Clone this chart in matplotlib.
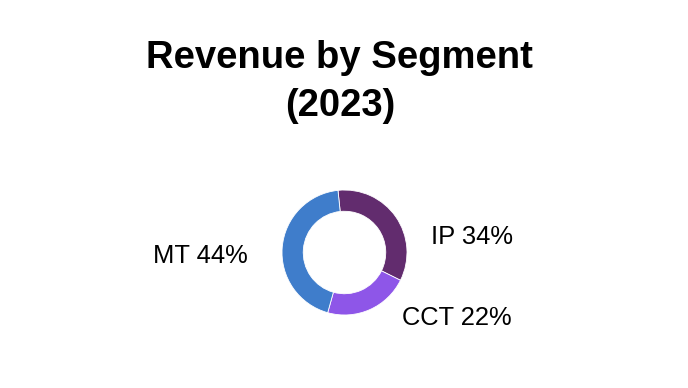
import matplotlib.pyplot as plt

# data
segments = ['IP', 'CCT', 'MT']
shares = [34, 22, 44]
colors = ['#622c6e', '#8e56e8', '#3f7dcb']

# label spots, in pie radius units
label_xy = [(2.035, 0.253), (1.795, -1.053), (-2.30, -0.056)]

plt.rcParams['font.family'] = ['Liberation Sans', 'DejaVu Sans']

W, H = 688, 388
cx, cy, r = 344.5, 252.5, 62.5

fig = plt.figure(figsize=(W / 100, H / 100), dpi=100)
ax = fig.add_axes([0, 0, 1, 1])

ax.pie(shares, colors=colors, startangle=96, counterclock=False,
       radius=1.0, wedgeprops=dict(width=0.34, edgecolor='white', linewidth=0.6))

for name, val, (x, y) in zip(segments, shares, label_xy):
    ax.text(x, y, f'{name} {val}%', ha='center', va='center', fontsize=18.4)

ax.set_xlim(-cx / r, (W - cx) / r)
ax.set_ylim(-(H - cy) / r, cy / r)
ax.set_aspect('auto')
ax.axis('off')

fig.text(0.494, 1 - 82 / H, 'Revenue by Segment\n(2023)', ha='center', va='center',
         fontsize=27.5, fontweight='bold', linespacing=1.42)

fig.savefig('out.png', dpi=100)
